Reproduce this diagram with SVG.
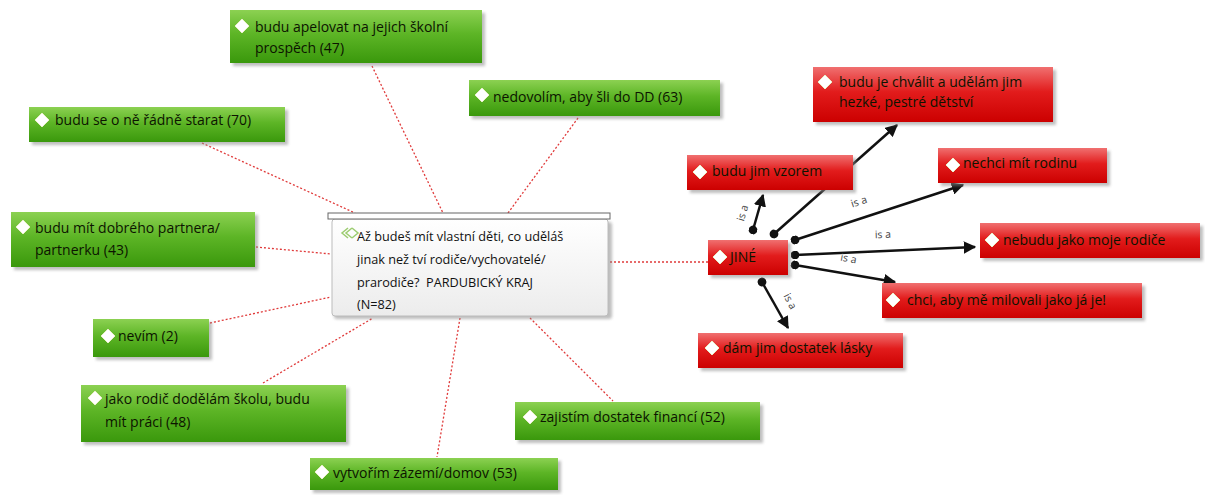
<svg xmlns="http://www.w3.org/2000/svg" width="1205" height="495" viewBox="0 0 1205 495">
<style>
.t{font-family:"Open Sans","DejaVu Sans",sans-serif;font-size:14px;fill:#0c1400}
.c{font-family:"Open Sans","DejaVu Sans",sans-serif;font-size:12.7px;fill:#111}
.l{font-family:"Open Sans","DejaVu Sans",sans-serif;font-size:10.5px;fill:#444}
.g{fill:url(#gg)}
.r{fill:url(#rg)}
.sh{fill:#888;opacity:0.55;filter:url(#bl)}
.dm{fill:#fff;stroke:#e8f0c8;stroke-width:1}
.dot{fill:none;stroke:#e03a3a;stroke-width:1.3;stroke-dasharray:2 2}
.ar{stroke:#111;stroke-width:2.5;fill:none;marker-start:url(#ds);marker-end:url(#ah)}
</style>
<defs>
<linearGradient id="gg" x1="0" y1="0" x2="0" y2="1">
<stop offset="0" stop-color="#8cd152"/><stop offset="0.45" stop-color="#5db526"/><stop offset="1" stop-color="#3a980c"/>
</linearGradient>
<linearGradient id="rg" x1="0" y1="0" x2="0" y2="1">
<stop offset="0" stop-color="#f07070"/><stop offset="0.45" stop-color="#e21c1c"/><stop offset="1" stop-color="#cc0000"/>
</linearGradient>
<linearGradient id="wg" x1="0" y1="0" x2="0" y2="1">
<stop offset="0" stop-color="#ffffff"/><stop offset="1" stop-color="#ececec"/>
</linearGradient>
<filter id="bl" x="-10%" y="-20%" width="120%" height="140%"><feGaussianBlur stdDeviation="1.5"/></filter>
<marker id="ah" viewBox="0 0 10 10" refX="9" refY="5" markerWidth="5" markerHeight="5" orient="auto" markerUnits="strokeWidth">
<path d="M0,0 L10,5 L0,10 z" fill="#111"/>
</marker>
<marker id="ds" viewBox="0 0 10 10" refX="5" refY="5" markerWidth="3.5" markerHeight="3.5" orient="auto" markerUnits="strokeWidth">
<circle cx="5" cy="5" r="5" fill="#111"/>
</marker>
</defs>

<g id="connectors">
<line class="dot" x1="372" y1="66" x2="443" y2="213"/>
<line class="dot" x1="578" y1="118" x2="508" y2="213"/>
<line class="dot" x1="202" y1="143" x2="355" y2="213"/>
<line class="dot" x1="256" y1="247" x2="331" y2="254"/>
<line class="dot" x1="210" y1="323" x2="331" y2="297"/>
<line class="dot" x1="263" y1="383" x2="373" y2="318"/>
<line class="dot" x1="460" y1="318" x2="437" y2="457"/>
<line class="dot" x1="530" y1="318" x2="613" y2="401"/>
<line class="dot" x1="610" y1="262" x2="708" y2="262"/>
<line class="ar" x1="753" y1="230" x2="763" y2="195"/>
<line class="ar" x1="774" y1="234" x2="897" y2="125"/>
<line class="ar" x1="795" y1="240" x2="963" y2="185"/>
<line class="ar" x1="795" y1="255" x2="975" y2="247"/>
<line class="ar" x1="795" y1="265" x2="895" y2="282"/>
<line class="ar" x1="762" y1="282" x2="788" y2="328"/>
<text class="l" transform="translate(746,214) rotate(-74)" text-anchor="middle">is a</text>
<text class="l" transform="translate(860,205) rotate(-18)" text-anchor="middle">is a</text>
<text class="l" transform="translate(883,238) rotate(-2)" text-anchor="middle">is a</text>
<text class="l" transform="translate(848,262) rotate(10)" text-anchor="middle">is a</text>
<text class="l" transform="translate(787,303) rotate(62)" text-anchor="middle">is a</text>
</g>

<g id="center">
<rect class="sh" x="334" y="222" width="278" height="97" rx="3"/>
<rect x="332" y="219" width="276" height="97" rx="3" fill="url(#wg)" stroke="#bcbcbc"/>
<rect x="328" y="213" width="282" height="6" fill="#fff" stroke="#666" stroke-width="1"/>
<path d="M348,228 l-6,5 l6,5 M352,228 l-6,5 l6,5 M352,228 l6,5 l-6,5" fill="none" stroke="#9ccc70" stroke-width="1.5"/>
<text class="c" x="357" y="241">Až budeš mít vlastní děti, co uděláš</text>
<text class="c" x="357" y="264">jinak než tví rodiče/vychovatelé/</text>
<text class="c" x="357" y="287">prarodiče?&#160; PARDUBICKÝ KRAJ</text>
<text class="c" x="357" y="309">(N=82)</text>
</g>

<g id="n-apelovat">
<rect class="sh" x="233" y="13" width="252" height="53"/>
<rect class="g" x="230" y="10" width="252" height="53"/>
<path class="dm" d="M242,19 l7,7 l-7,7 l-7,-7 z"/>
<text class="t" x="255" y="32">budu apelovat na jejich školní</text>
<text class="t" x="255" y="53">prospěch (47)</text>
</g>

<g id="n-nedovolim">
<rect class="sh" x="472" y="83" width="251" height="36"/>
<rect class="g" x="469" y="80" width="251" height="36"/>
<path class="dm" d="M482,88 l7,7 l-7,7 l-7,-7 z"/>
<text class="t" x="493" y="102">nedovolím, aby šli do DD (63)</text>
</g>

<g id="n-starat">
<rect class="sh" x="32" y="110" width="256" height="35"/>
<rect class="g" x="29" y="107" width="256" height="35"/>
<path class="dm" d="M42,113 l7,7 l-7,7 l-7,-7 z"/>
<text class="t" x="55" y="125">budu se o ně řádně starat (70)</text>
</g>

<g id="n-partnera">
<rect class="sh" x="14" y="215" width="244" height="55"/>
<rect class="g" x="11" y="212" width="244" height="55"/>
<path class="dm" d="M23,220 l7,7 l-7,7 l-7,-7 z"/>
<text class="t" x="35" y="233">budu mít dobrého partnera/</text>
<text class="t" x="35" y="255">partnerku (43)</text>
</g>

<g id="n-nevim">
<rect class="sh" x="96" y="322" width="116" height="38"/>
<rect class="g" x="93" y="319" width="116" height="38"/>
<path class="dm" d="M108,329 l7,7 l-7,7 l-7,-7 z"/>
<text class="t" x="118" y="341">nevím (2)</text>
</g>

<g id="n-jako">
<rect class="sh" x="84" y="388" width="265" height="57"/>
<rect class="g" x="81" y="385" width="265" height="57"/>
<path class="dm" d="M95,391 l7,7 l-7,7 l-7,-7 z"/>
<text class="t" x="105" y="404">jako rodič dodělám školu, budu</text>
<text class="t" x="105" y="427">mít práci (48)</text>
</g>

<g id="n-vytvorim">
<rect class="sh" x="313" y="461" width="248" height="32"/>
<rect class="g" x="310" y="458" width="248" height="32"/>
<path class="dm" d="M322,465 l7,7 l-7,7 l-7,-7 z"/>
<text class="t" x="333" y="478">vytvořím zázemí/domov (53)</text>
</g>

<g id="n-zajistim">
<rect class="sh" x="518" y="405" width="245" height="38"/>
<rect class="g" x="515" y="402" width="245" height="38"/>
<path class="dm" d="M530,410 l7,7 l-7,7 l-7,-7 z"/>
<text class="t" x="540" y="422">zajistím dostatek financí (52)</text>
</g>

<g id="n-chvalit">
<rect class="sh" x="816" y="70" width="240" height="55"/>
<rect class="r" x="813" y="67" width="240" height="55"/>
<path class="dm" d="M825,75 l7,7 l-7,7 l-7,-7 z"/>
<text class="t" x="839" y="87">budu je chválit a udělám jim</text>
<text class="t" x="839" y="107">hezké, pestré dětství</text>
</g>

<g id="n-nechci">
<rect class="sh" x="941" y="151" width="169" height="35"/>
<rect class="r" x="938" y="148" width="169" height="35"/>
<path class="dm" d="M953,158 l7,7 l-7,7 l-7,-7 z"/>
<text class="t" x="963" y="168">nechci mít rodinu</text>
</g>

<g id="n-vzorem">
<rect class="sh" x="690" y="158" width="166" height="35"/>
<rect class="r" x="687" y="155" width="166" height="35"/>
<path class="dm" d="M700,165 l7,7 l-7,7 l-7,-7 z"/>
<text class="t" x="712" y="176">budu jim vzorem</text>
</g>

<g id="n-jine">
<rect class="sh" x="711" y="243" width="80" height="35"/>
<rect class="r" x="708" y="240" width="80" height="35"/>
<path class="dm" d="M720,250 l7,7 l-7,7 l-7,-7 z"/>
<text class="t" x="730" y="262">JINÉ</text>
</g>

<g id="n-nebudu">
<rect class="sh" x="983" y="226" width="220" height="35"/>
<rect class="r" x="980" y="223" width="220" height="35"/>
<path class="dm" d="M992,233 l7,7 l-7,7 l-7,-7 z"/>
<text class="t" x="1003" y="245">nebudu jako moje rodiče</text>
</g>

<g id="n-chci">
<rect class="sh" x="885" y="286" width="260" height="35"/>
<rect class="r" x="882" y="283" width="260" height="35"/>
<path class="dm" d="M893,293 l7,7 l-7,7 l-7,-7 z"/>
<text class="t" x="907" y="305">chci, aby mě milovali jako já je!</text>
</g>

<g id="n-dam">
<rect class="sh" x="701" y="336" width="205" height="35"/>
<rect class="r" x="698" y="333" width="205" height="35"/>
<path class="dm" d="M712,341 l7,7 l-7,7 l-7,-7 z"/>
<text class="t" x="723" y="353">dám jim dostatek lásky</text>
</g>
</svg>
